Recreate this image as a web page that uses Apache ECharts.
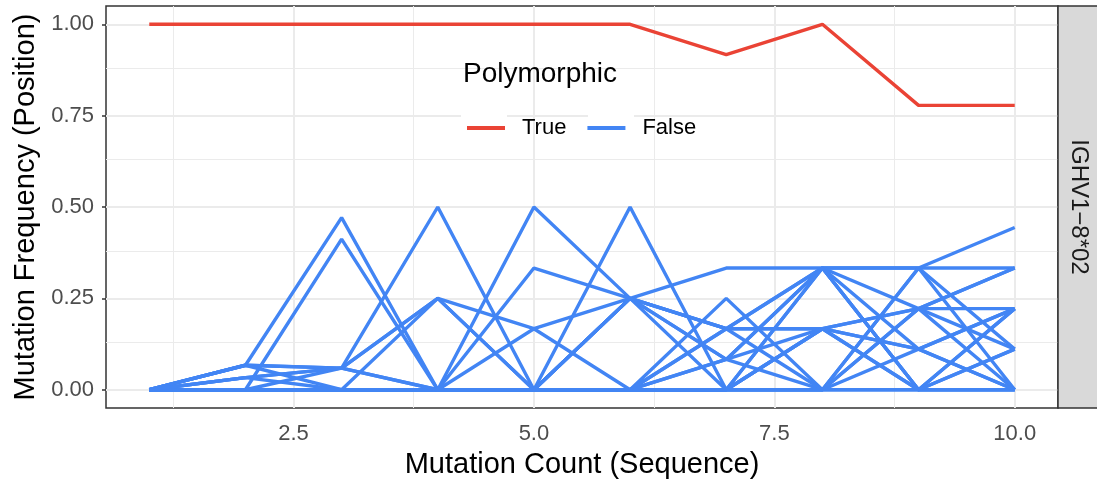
<!DOCTYPE html>
<html>
<head>
<meta charset="utf-8">
<script src="https://cdn.jsdelivr.net/npm/echarts@6/dist/echarts.min.js"></script>
<style>
  html, body { margin: 0; padding: 0; background: #fff; }
  #chart { width: 1097px; height: 480px; }
</style>
</head>
<body>
<div id="chart"></div>
<script>
var counts = [1, 2, 3, 4, 5, 6, 7, 8, 9, 10];
var trueLine = [1, 1, 1, 1, 1, 1, 0.917, 1, 0.778, 0.778];
// one row per position, values at mutation count 1..10
var falseLines = [
    [0, 0.067, 0.471, 0, 0.5, 0.25, 0.333, 0.333, 0.333, 0.444],
    [0, 0, 0.412, 0, 0, 0.5, 0, 0.333, 0.333, 0.333],
    [0, 0.067, 0.059, 0.5, 0, 0.25, 0.167, 0.167, 0.222, 0.111],
    [0, 0.033, 0.059, 0.25, 0.167, 0.25, 0.167, 0.333, 0.222, 0],
    [0, 0, 0, 0.25, 0, 0.25, 0.083, 0.333, 0, 0.222],
    [0, 0.067, 0.059, 0, 0.333, 0.25, 0, 0.167, 0.111, 0.222],
    [0, 0, 0.059, 0.25, 0, 0, 0.25, 0, 0.333, 0.111],
    [0, 0.033, 0, 0, 0.167, 0, 0.083, 0, 0.222, 0.333],
    [0, 0, 0, 0, 0, 0.25, 0.167, 0.333, 0, 0],
    [0, 0.067, 0, 0, 0, 0, 0.167, 0, 0.111, 0.222],
    [0, 0, 0, 0, 0, 0, 0, 0.167, 0.222, 0.222],
    [0, 0, 0, 0, 0, 0, 0.083, 0.333, 0.111, 0],
    [0, 0, 0, 0, 0, 0, 0, 0.333, 0, 0.111],
    [0, 0, 0, 0, 0, 0, 0, 0, 0.333, 0],
    [0, 0, 0, 0, 0, 0, 0.167, 0.167, 0, 0.222],
    [0, 0, 0, 0, 0, 0, 0, 0, 0.222, 0.333],
    [0, 0, 0, 0, 0, 0, 0, 0.167, 0, 0],
    [0, 0, 0, 0, 0, 0, 0, 0, 0, 0],
    [0, 0, 0, 0, 0, 0.25, 0.083, 0.167, 0.111, 0],
    [0, 0.033, 0.059, 0, 0, 0, 0, 0, 0, 0.111]
];
var xTicks = [2.5, 5, 7.5, 10];
var xMinor = [1.25, 3.75, 6.25, 8.75];
var yTicks = [0, 0.25, 0.5, 0.75, 1];
var yMinor = [0.125, 0.375, 0.625, 0.875];

var RED = '#EA4335', BLUE = '#4285F4', GRID = '#ebebeb';
var FONT = 'Liberation Sans';

function pairs(vals) {
    return counts.map(function (c, i) { return [c, vals[i]]; });
}

var series = [];
// grid lines as marklines so they can sit on ggplot's positions
series.push({
    type: 'line', data: [], silent: true, z: 1,
    markLine: {
        silent: true, symbol: 'none', label: { show: false }, z: 1, animation: false,
        data: []
            .concat(xMinor.map(function (v) { return { xAxis: v, lineStyle: { color: GRID, width: 1, type: 'solid' } }; }))
            .concat(yMinor.map(function (v) { return { yAxis: v, lineStyle: { color: GRID, width: 1, type: 'solid' } }; }))
            .concat(xTicks.map(function (v) { return { xAxis: v, lineStyle: { color: GRID, width: 2, type: 'solid' } }; }))
            .concat(yTicks.map(function (v) { return { yAxis: v, lineStyle: { color: GRID, width: 2, type: 'solid' } }; }))
    }
});
falseLines.forEach(function (row) {
    series.push({
        name: 'False', type: 'line', data: pairs(row), showSymbol: false, z: 2,
        lineStyle: { color: BLUE, width: 3.4 }, itemStyle: { color: BLUE }
    });
});
series.push({
    name: 'True', type: 'line', data: pairs(trueLine), showSymbol: false, z: 3,
    lineStyle: { color: RED, width: 3.4 }, itemStyle: { color: RED }
});

var chart = echarts.init(document.getElementById('chart'));
var option = {
    animation: false,
    textStyle: { fontFamily: FONT },
    title: {
        text: 'Polymorphic', left: 463, top: 60, padding: 0,
        textStyle: { fontFamily: FONT, fontSize: 28, fontWeight: 'normal', color: '#000' }
    },
    legend: {
        data: ['True', 'False'], left: 467, top: 117, padding: 0,
        icon: 'rect', itemWidth: 38, itemHeight: 4, itemGap: 21,
        textStyle: { fontFamily: FONT, fontSize: 22, color: '#000', padding: [0, 0, 0, 12] }
    },
    grid: { left: 106, right: 39, top: 6, bottom: 72, outerBoundsMode: 'none', containLabel: false,
        show: true, borderColor: '#333', borderWidth: 1.5, backgroundColor: 'transparent' },
    xAxis: {
        type: 'value', min: 0.55, max: 10.45,
        name: 'Mutation Count (Sequence)', nameLocation: 'middle', nameGap: 42,
        nameTextStyle: { fontFamily: FONT, fontSize: 29, color: '#000' },
        axisLine: { show: false },
        axisTick: { show: true, customValues: xTicks, length: 4, lineStyle: { color: '#333', width: 1.5 } },
        axisLabel: { customValues: xTicks, margin: 15, fontSize: 22, color: '#4d4d4d', fontFamily: FONT,
            formatter: function (v) { return v.toFixed(1); } },
        splitLine: { show: false }
    },
    yAxis: {
        type: 'value', min: -0.05, max: 1.05,
        name: 'Mutation Frequency (Position)', nameLocation: 'middle', nameGap: 66,
        nameTextStyle: { fontFamily: FONT, fontSize: 29, color: '#000' },
        axisLine: { show: false },
        axisTick: { show: true, customValues: yTicks, length: 4, lineStyle: { color: '#333', width: 1.5 } },
        axisLabel: { customValues: yTicks, margin: 12, fontSize: 22, color: '#4d4d4d', fontFamily: FONT,
            formatter: function (v) { return v.toFixed(2); } },
        splitLine: { show: false }
    },
    graphic: [
        // white legend key boxes interrupt the grid lines
        { type: 'rect', z: 3, shape: { x: 461, y: 114, width: 46, height: 26 }, style: { fill: '#fff' } },
        { type: 'rect', z: 3, shape: { x: 588, y: 114, width: 46, height: 26 }, style: { fill: '#fff' } },
        { type: 'rect', z: 5, shape: { x: 1058, y: 6, width: 50, height: 402 }, style: { fill: '#d9d9d9', stroke: '#333', lineWidth: 1.5 } },
        { type: 'text', z: 6, x: 1079, y: 207, rotation: -Math.PI / 2,
          style: { text: 'IGHV1\u22128*02', fontFamily: FONT, fontSize: 24, fill: '#1a1a1a', align: 'center', verticalAlign: 'middle' } }
    ],
    series: series
};
chart.setOption(option);
</script>
</body>
</html>
